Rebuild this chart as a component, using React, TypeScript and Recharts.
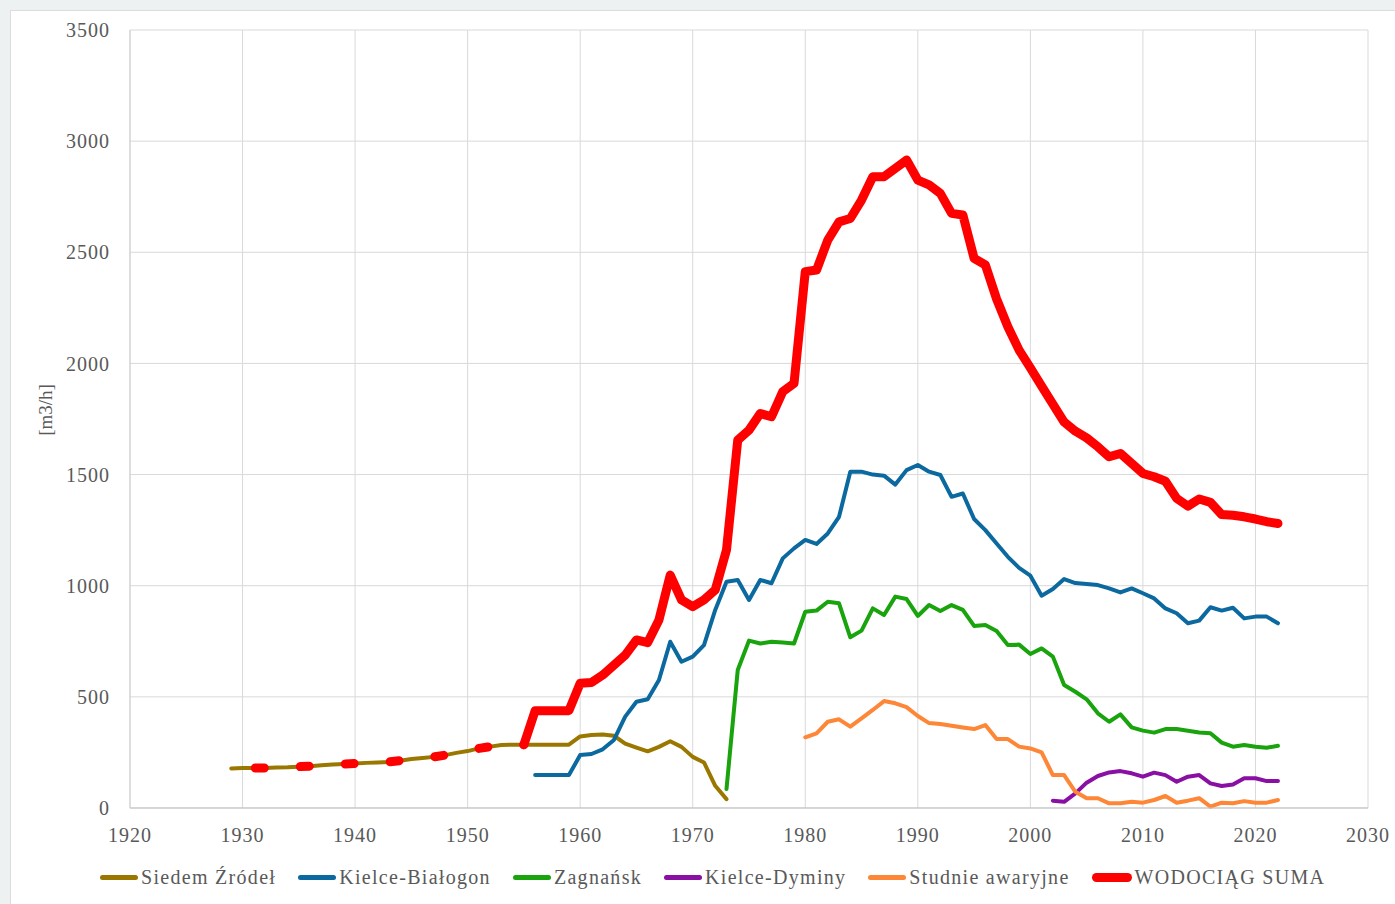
import { LineChart, Line, XAxis, YAxis, CartesianGrid, Legend } from "recharts";

const yearTicks = [1920, 1930, 1940, 1950, 1960, 1970, 1980, 1990, 2000, 2010, 2020, 2030];
const valueTicks = [0, 500, 1000, 1500, 2000, 2500, 3000, 3500];

// Siedem Źródeł, 1929-1973
const siedemStart = 1929;
const siedem = [
  178, 180, 180, 180, 182, 183, 186, 188, 192, 196, 198, 200, 203, 205, 207, 213, 220, 225, 230,
  238, 248, 256, 268, 276, 283, 285, 285, 285, 285, 285, 285, 322, 328, 331, 325, 290, 272, 255,
  275, 300, 275, 230, 205, 100, 40,
];

// Kielce-Białogon, 1956-2022
const bialogonStart = 1956;
const bialogon = [
  148, 148, 148, 148, 238, 243, 264, 306, 411, 478, 489, 576, 748, 658, 681, 733, 891, 1018, 1026,
  936, 1026, 1011, 1123, 1168, 1206, 1188, 1235, 1310, 1513, 1513, 1500, 1495, 1455, 1520, 1543,
  1513, 1498, 1400, 1415, 1300, 1250, 1190, 1130, 1080, 1045, 955, 985, 1030, 1012, 1008, 1003,
  988, 970, 988, 966, 943, 898, 876, 831, 843, 903, 888, 901, 853, 861, 861, 831,
];

// Zagnańsk, 1973-2022
const zagnanskStart = 1973;
const zagnansk = [
  85, 621, 753, 740, 748, 745, 740, 883, 888, 928, 921, 768, 798, 898, 868, 951, 940, 864, 913,
  886, 913, 891, 819, 823, 796, 733, 735, 693, 718, 681, 553, 523, 489, 426, 388, 421, 363, 348,
  339, 355, 355, 348, 340, 336, 294, 276, 283, 276, 271, 280,
];

// Kielce-Dyminy, 2002-2022
const dyminyStart = 2002;
const dyminy = [
  33, 28, 66, 114, 144, 160, 166, 156, 141, 159, 148, 118, 141, 148, 111, 99, 106, 134, 134, 121,
  121,
];

// Studnie awaryjne, 1980-2022
const studnieStart = 1980;
const studnie = [
  318, 336, 388, 399, 366, 403, 441, 481, 471, 454, 414, 382, 378, 370, 362, 355, 373, 310, 310,
  276, 268, 250, 148, 148, 73, 44, 44, 21, 21, 28, 24, 36, 54, 24, 33, 44, 6, 24, 21, 31, 24, 24,
  36,
];

// WODOCIĄG SUMA, early part (dashed) 1929-1955
const sumaEarlyStart = 1929;
const sumaEarly = [
  178, 180, 180, 180, 182, 183, 186, 188, 192, 196, 198, 200, 203, 205, 207, 213, 220, 225, 230,
  238, 248, 256, 268, 276, 283, 285, 285,
];

// WODOCIĄG SUMA, 1955-2022
const sumaStart = 1955;
const suma = [
  285, 438, 438, 438, 438, 561, 565, 598, 643, 688, 756, 744, 846, 1048, 936, 906, 936, 981, 1161,
  1655, 1700, 1775, 1760, 1873, 1910, 2413, 2420, 2555, 2637, 2652, 2735, 2840, 2840, 2877, 2915,
  2825, 2803, 2765, 2675, 2668, 2473, 2443, 2290, 2165, 2060, 1980, 1898, 1817, 1736, 1695, 1665,
  1625, 1580, 1595, 1550, 1505, 1490, 1470, 1393, 1358, 1390, 1375, 1320, 1317, 1310, 1300, 1288,
  1280,
];

const series = [
  { key: "siedem", name: "Siedem Źródeł", color: "#9a7800", start: siedemStart, values: siedem },
  { key: "bialogon", name: "Kielce-Białogon", color: "#0b69a0", start: bialogonStart, values: bialogon },
  { key: "zagnansk", name: "Zagnańsk", color: "#19a30d", start: zagnanskStart, values: zagnansk },
  { key: "dyminy", name: "Kielce-Dyminy", color: "#8a0fa3", start: dyminyStart, values: dyminy },
  { key: "studnie", name: "Studnie awaryjne", color: "#fd8737", start: studnieStart, values: studnie },
];

const RED = "#ff0000";
const TEXT = "#595959";
const FONT = '"Liberation Serif", "Times New Roman", serif';

function buildRows() {
  const rows: Record<string, number | undefined>[] = [];
  for (let y = 1929; y <= 2022; y++) {
    const row: Record<string, number | undefined> = { year: y };
    for (const s of series) {
      const i = y - s.start;
      if (i >= 0 && i < s.values.length) row[s.key] = s.values[i];
    }
    const e = y - sumaEarlyStart;
    if (e >= 0 && e < sumaEarly.length) row.sumaEarly = sumaEarly[e];
    const t = y - sumaStart;
    if (t >= 0 && t < suma.length) row.suma = suma[t];
    rows.push(row);
  }
  return rows;
}

const data = buildRows();

const legendItems = [
  ...series.map((s) => ({ name: s.name, color: s.color, thick: false })),
  { name: "WODOCIĄG SUMA", color: RED, thick: true },
];

function ChartLegend() {
  return (
    <div style={{ display: "flex", alignItems: "center", fontFamily: FONT, fontSize: 20, color: TEXT, letterSpacing: 1.3 }}>
      {legendItems.map((item) => (
        <div key={item.name} style={{ display: "flex", alignItems: "center", marginRight: 22 }}>
          <span
            style={{
              display: "inline-block",
              width: item.thick ? 40 : 38,
              height: item.thick ? 9 : 5,
              borderRadius: 5,
              background: item.color,
              marginRight: 3,
            }}
          />
          <span style={{ whiteSpace: "nowrap" }}>{item.name}</span>
        </div>
      ))}
    </div>
  );
}

export default function App() {
  return (
    <div style={{ width: 1395, height: 904, background: "#eef1f1", position: "relative", overflow: "hidden" }}>
      <style>{"body{margin:0}"}</style>
      <div
        style={{
          position: "absolute",
          left: 10,
          top: 10,
          width: 1384,
          height: 893,
          background: "#ffffff",
          borderTop: "1px solid #dcdcdc",
          borderLeft: "1px solid #dcdcdc",
        }}
      >
        <LineChart
          width={1384}
          height={893}
          data={data}
          margin={{ top: 19, right: 27, left: 0, bottom: 56 }}
        >
          <CartesianGrid stroke="#d9d9d9" strokeWidth={1} />
          <XAxis
            dataKey="year"
            type="number"
            domain={[1920, 2030]}
            ticks={yearTicks}
            allowDataOverflow
            tickLine={false}
            axisLine={{ stroke: "#bfbfbf" }}
            tickMargin={14}
            height={40}
            tick={{ fill: TEXT, fontSize: 20, fontFamily: FONT, letterSpacing: 1 }}
          />
          <YAxis
            type="number"
            domain={[0, 3500]}
            ticks={valueTicks}
            width={119}
            tickLine={false}
            axisLine={{ stroke: "#cfcfcf" }}
            tickMargin={14}
            tick={{ fill: TEXT, fontSize: 20, fontFamily: FONT, letterSpacing: 1 }}
            label={{
              content: () => (
                <text
                  x={34}
                  y={399}
                  transform="rotate(-90 34 399)"
                  textAnchor="middle"
                  dominantBaseline="central"
                  fill={TEXT}
                  fontSize={19}
                  fontFamily={FONT}
                >
                  [m3/h]
                </text>
              ),
            }}
          />
          <Legend
            layout="horizontal"
            verticalAlign="middle"
            align="center"
            wrapperStyle={{ top: 855, left: 89, width: 1290 }}
            content={() => <ChartLegend />}
          />
          {series.map((s) => (
            <Line
              key={s.key}
              dataKey={s.key}
              name={s.name}
              type="linear"
              stroke={s.color}
              strokeWidth={4}
              strokeLinejoin="round"
              strokeLinecap="round"
              dot={false}
              activeDot={false}
              isAnimationActive={false}
            />
          ))}
          <Line
            dataKey="sumaEarly"
            name="WODOCIĄG SUMA"
            legendType="none"
            type="linear"
            stroke={RED}
            strokeWidth={9}
            strokeDasharray="9 36"
            strokeDashoffset={21}
            strokeLinecap="round"
            dot={false}
            activeDot={false}
            isAnimationActive={false}
          />
          <Line
            dataKey="suma"
            name="WODOCIĄG SUMA"
            type="linear"
            stroke={RED}
            strokeWidth={9}
            strokeLinejoin="round"
            strokeLinecap="round"
            dot={false}
            activeDot={false}
            isAnimationActive={false}
          />
        </LineChart>
      </div>
    </div>
  );
}
